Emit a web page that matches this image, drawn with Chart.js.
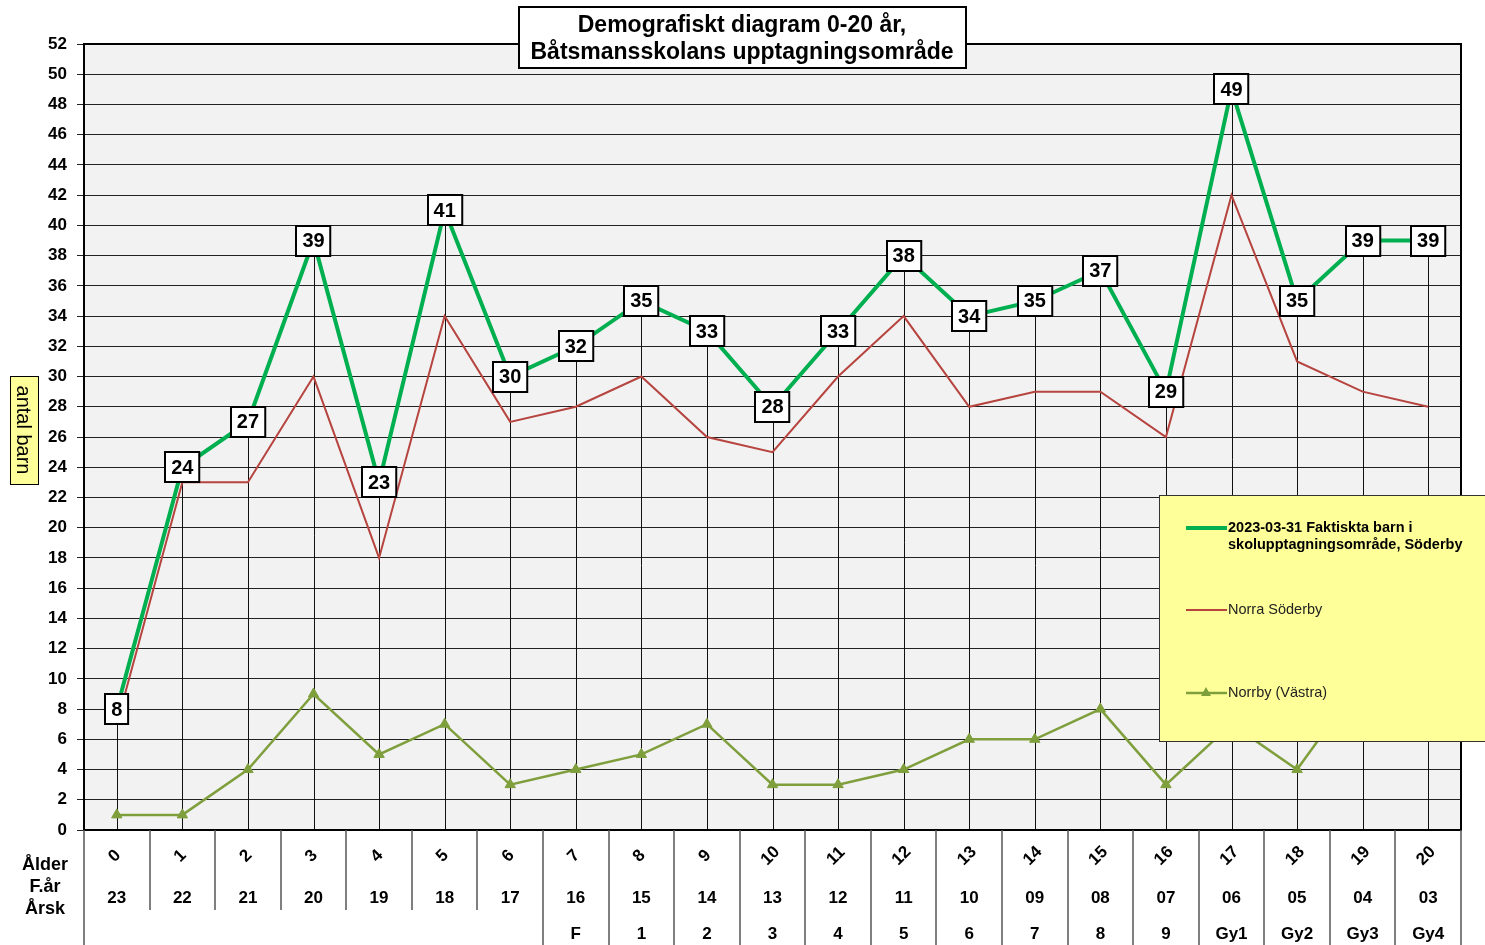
<!DOCTYPE html>
<html>
<head>
<meta charset="utf-8">
<script src="https://cdn.jsdelivr.net/npm/chart.js@4.4.1/dist/chart.umd.min.js"></script>
<style>
  html, body { margin: 0; padding: 0; background: #fff; }
  #wrap { width: 1485px; height: 945px; position: relative; }
</style>
</head>
<body>
<div id="wrap"><canvas id="demoChart" width="1485" height="945"></canvas></div>
<script>
const alder = ['0','1','2','3','4','5','6','7','8','9','10','11','12','13','14','15','16','17','18','19','20'];
const fodelsear = ['23','22','21','20','19','18','17','16','15','14','13','12','11','10','09','08','07','06','05','04','03'];
const arskurs = ['','','','','','','','F','1','2','3','4','5','6','7','8','9','Gy1','Gy2','Gy3','Gy4'];

const faktiska = [8, 24, 27, 39, 23, 41, 30, 32, 35, 33, 28, 33, 38, 34, 35, 37, 29, 49, 35, 39, 39];
const norraSoderby = [7, 23, 23, 30, 18, 34, 27, 28, 30, 26, 25, 30, 34, 28, 29, 29, 26, 42, 31, 29, 28];
const norrbyVastra = [1, 1, 4, 9, 5, 7, 3, 4, 5, 7, 3, 3, 4, 6, 6, 8, 3, 7, 4, 10, 11];

const FONT = '"Liberation Sans", Arial, sans-serif';
const GREEN = '#00b050';
const RED = '#b6443f';
const OLIVE = '#7f9f3d';

// bakgrund och fallinjer
const ytaPlugin = {
    id: 'yta',
    beforeDraw(chart) {
        const { ctx, chartArea: a } = chart;
        ctx.save();
        ctx.fillStyle = '#f2f2f2';
        ctx.fillRect(a.left, a.top, a.right - a.left, a.bottom - a.top);
        ctx.restore();
    },
    beforeDatasetsDraw(chart) {
        const { ctx, chartArea: a } = chart;
        const meta = chart.getDatasetMeta(0);
        ctx.save();
        ctx.strokeStyle = '#111';
        ctx.lineWidth = 1;
        meta.data.forEach(p => {
            const x = Math.round(p.x) + 0.5;
            ctx.beginPath();
            ctx.moveTo(x, p.y);
            ctx.lineTo(x, a.bottom);
            ctx.stroke();
        });
        ctx.restore();
    }
};

// etiketter, tabell, titel, förklaring
const extraPlugin = {
    id: 'extra',
    afterDatasetsDraw(chart) {
        const { ctx, chartArea: a, scales } = chart;
        const xs = scales.x;

        // ram runt ritytan
        ctx.save();
        ctx.strokeStyle = '#000';
        ctx.lineWidth = 2;
        ctx.beginPath();
        ctx.moveTo(a.left, a.bottom);
        ctx.lineTo(a.left, a.top);
        ctx.lineTo(a.right, a.top);
        ctx.lineTo(a.right, a.bottom);
        ctx.lineTo(a.left, a.bottom);
        ctx.stroke();
        ctx.restore();

        // dataetiketter
        const meta = chart.getDatasetMeta(0);
        ctx.save();
        ctx.font = 'bold 20px ' + FONT;
        ctx.textAlign = 'center';
        ctx.textBaseline = 'middle';
        meta.data.forEach((p, i) => {
            const txt = String(faktiska[i]);
            const w = ctx.measureText(txt).width + 12;
            const h = 30;
            const bx = Math.round(p.x - w / 2), by = Math.round(p.y - h / 2);
            ctx.fillStyle = '#fff';
            ctx.fillRect(bx, by, w, h);
            ctx.strokeStyle = '#000';
            ctx.lineWidth = 2;
            ctx.strokeRect(bx, by, w, h);
            ctx.fillStyle = '#000';
            ctx.fillText(txt, p.x, p.y + 1);
        });
        ctx.restore();

        // tabell under x-axeln
        const step = (a.right - a.left) / alder.length;
        ctx.save();
        ctx.strokeStyle = '#555';
        ctx.lineWidth = 1.5;
        for (let i = 0; i <= alder.length; i++) {
            const x = Math.round(a.left + i * step);
            const yEnd = (i >= 1 && i <= 6) ? 910 : 945;
            ctx.beginPath();
            ctx.moveTo(x, a.bottom);
            ctx.lineTo(x, yEnd);
            ctx.stroke();
        }
        ctx.fillStyle = '#000';
        ctx.font = 'bold 17px ' + FONT;
        ctx.textAlign = 'center';
        ctx.textBaseline = 'middle';
        alder.forEach((t, i) => {
            const x = xs.getPixelForValue(i);
            ctx.save();
            ctx.translate(x - 2, 856);
            ctx.rotate(-Math.PI / 4);
            ctx.fillText(t, 0, 0);
            ctx.restore();
            ctx.fillText(fodelsear[i], x, 898);
            if (arskurs[i]) ctx.fillText(arskurs[i], x, 934);
        });
        ctx.font = 'bold 18px ' + FONT;
        ctx.fillText('Ålder', 45, 865);
        ctx.fillText('F.år', 45, 887);
        ctx.fillText('Årsk', 45, 909);
        ctx.restore();

        // y-axelns rubrik
        ctx.save();
        ctx.fillStyle = '#ffff99';
        ctx.fillRect(10, 376, 28, 108);
        ctx.strokeStyle = '#000';
        ctx.lineWidth = 1;
        ctx.strokeRect(10.5, 376.5, 28, 108);
        ctx.translate(24, 430);
        ctx.rotate(Math.PI / 2);
        ctx.fillStyle = '#000';
        ctx.font = '20px ' + FONT;
        ctx.textAlign = 'center';
        ctx.textBaseline = 'middle';
        ctx.fillText('antal barn', 0, 1);
        ctx.restore();

        // titel
        ctx.save();
        ctx.fillStyle = '#fff';
        ctx.fillRect(519, 7, 447, 61);
        ctx.strokeStyle = '#000';
        ctx.lineWidth = 2;
        ctx.strokeRect(519, 7, 447, 61);
        ctx.fillStyle = '#000';
        ctx.font = 'bold 23px ' + FONT;
        ctx.textAlign = 'center';
        ctx.textBaseline = 'middle';
        ctx.fillText('Demografiskt diagram 0-20 år,', 742, 26);
        ctx.fillText('Båtsmansskolans upptagningsområde', 742, 53);
        ctx.restore();

        // förklaring
        ctx.save();
        ctx.fillStyle = '#ffff99';
        ctx.fillRect(1159, 495, 330, 246);
        ctx.strokeStyle = '#333';
        ctx.lineWidth = 1;
        ctx.strokeRect(1159.5, 495.5, 330, 246);
        ctx.lineCap = 'butt';
        ctx.strokeStyle = GREEN;
        ctx.lineWidth = 4;
        ctx.beginPath(); ctx.moveTo(1186, 528); ctx.lineTo(1227, 528); ctx.stroke();
        ctx.strokeStyle = RED;
        ctx.lineWidth = 2;
        ctx.beginPath(); ctx.moveTo(1186, 610); ctx.lineTo(1227, 610); ctx.stroke();
        ctx.strokeStyle = OLIVE;
        ctx.lineWidth = 2.5;
        ctx.beginPath(); ctx.moveTo(1186, 693); ctx.lineTo(1227, 693); ctx.stroke();
        ctx.fillStyle = OLIVE;
        ctx.beginPath();
        ctx.moveTo(1206, 687); ctx.lineTo(1211, 696); ctx.lineTo(1201, 696);
        ctx.closePath(); ctx.fill();
        ctx.fillStyle = '#000';
        ctx.textAlign = 'left';
        ctx.textBaseline = 'middle';
        ctx.font = 'bold 14.5px ' + FONT;
        ctx.fillText('2023-03-31 Faktiskta barn i', 1228, 528);
        ctx.fillText('skolupptagningsområde, Söderby', 1228, 545);
        ctx.fillStyle = '#222';
        ctx.font = '14.5px ' + FONT;
        ctx.fillText('Norra Söderby', 1228, 610);
        ctx.fillText('Norrby (Västra)', 1228, 693);
        ctx.restore();
    }
};

const ctx = document.getElementById('demoChart').getContext('2d');
new Chart(ctx, {
    type: 'line',
    data: {
        labels: alder,
        datasets: [
            {
                label: '2023-03-31 Faktiskta barn i skolupptagningsområde, Söderby',
                data: faktiska,
                borderColor: GREEN,
                borderWidth: 4,
                pointRadius: 0,
                tension: 0,
                order: 1
            },
            {
                label: 'Norra Söderby',
                data: norraSoderby,
                borderColor: RED,
                borderWidth: 2,
                pointRadius: 0,
                tension: 0,
                order: 2
            },
            {
                label: 'Norrby (Västra)',
                data: norrbyVastra,
                borderColor: OLIVE,
                backgroundColor: OLIVE,
                borderWidth: 2.5,
                pointStyle: 'triangle',
                pointRadius: 6,
                pointBorderWidth: 1,
                tension: 0,
                order: 3
            }
        ]
    },
    options: {
        responsive: false,
        animation: false,
        layout: { padding: { top: 44, right: 24, bottom: 115, left: 0 } },
        plugins: {
            legend: { display: false },
            title: { display: false },
            tooltip: { enabled: false }
        },
        scales: {
            x: {
                display: false,
                offset: true
            },
            y: {
                min: 0,
                max: 52,
                afterFit(scale) { scale.width = 84; },
                ticks: {
                    stepSize: 2,
                    color: '#000',
                    padding: 10,
                    font: { family: FONT, size: 17, weight: 'bold' }
                },
                grid: {
                    color: '#222',
                    lineWidth: 1,
                    tickLength: 7
                },
                border: { color: '#000', width: 2 }
            }
        }
    },
    plugins: [ytaPlugin, extraPlugin]
});
</script>
</body>
</html>
